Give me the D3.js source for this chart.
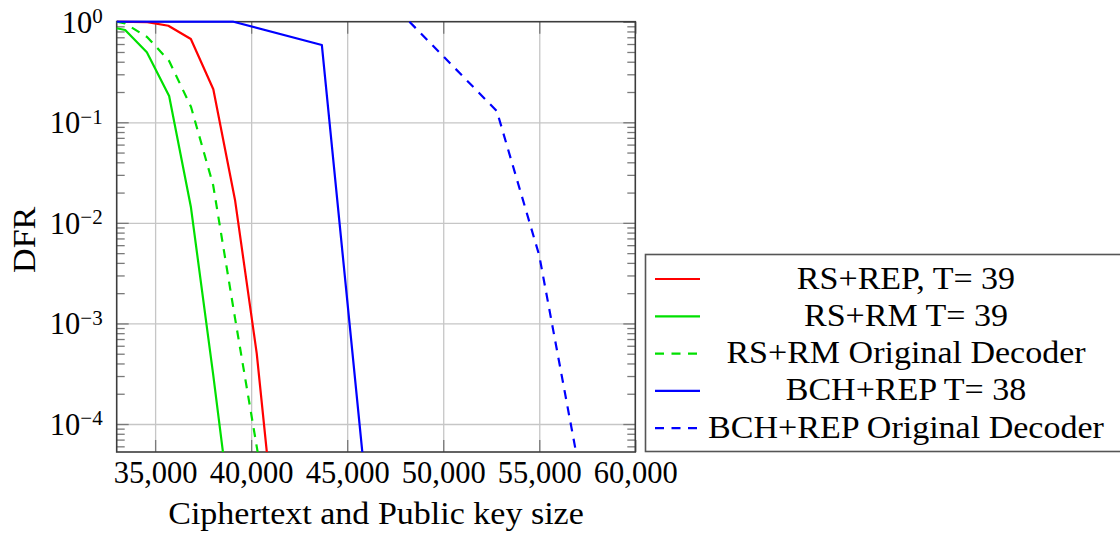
<!DOCTYPE html>
<html>
<head>
<meta charset="utf-8">
<script src="https://cdn.jsdelivr.net/npm/d3@7"></script>
<style>
  html, body { margin: 0; padding: 0; background: #fff; }
  svg { display: block; }
  text { font-family: "Liberation Serif", "Times New Roman", serif; fill: #000; }
</style>
</head>
<body>
<svg id="chart" width="1120" height="534"></svg>
<script>
// Decoding failure rate versus ciphertext + public key size (bits)
const xTicks = [35000, 40000, 45000, 50000, 55000, 60000];
const yDecades = [1, 1e-1, 1e-2, 1e-3, 1e-4];
const yExponents = [0, -1, -2, -3, -4];

const rsRepX = [33000, 34600, 35690, 36860, 38030, 39160, 40290, 40880];
const rsRepY = [1, 0.99, 0.912, 0.673, 0.213, 0.0169, 5.04e-4, 4e-5];

const rsRmX = [33000, 33440, 34570, 35730, 36860, 38020, 38610];
const rsRmY = [0.86, 0.827, 0.496, 0.1825, 0.01448, 3.14e-4, 4e-5];

const rsRmOrigX = [33000, 33440, 34580, 35730, 36870, 38020, 39160, 40390];
const rsRmOrigY = [1, 0.96, 0.705, 0.407, 0.142, 0.0238, 1.13e-3, 4.6e-5];

const bchRepX = [33000, 39080, 43680, 45850];
const bchRepY = [1, 1, 0.587, 4e-5];

const bchRepOrigX = [48240, 52790, 55000, 57030];
const bchRepOrigY = [1, 0.1294, 4.73e-3, 4e-5];

const seriesNames = ["RS+REP, T= 39", "RS+RM T= 39", "RS+RM Original Decoder", "BCH+REP T= 38", "BCH+REP Original Decoder"];
const seriesColors = ["#ff0000", "#00e000", "#00e000", "#0000ff", "#0000ff"];
const seriesDashed = [false, false, true, false, true];
const seriesX = [rsRepX, rsRmX, rsRmOrigX, bchRepX, bchRepOrigX];
const seriesY = [rsRepY, rsRmY, rsRmOrigY, bchRepY, bchRepOrigY];

const xDomain = [33000, 60000];
const yDomain = [5.27e-5, 1];

// layout
const plot = { left: 116.7, right: 635.3, top: 21.7, bottom: 452 };
const fontSize = 30.5;
const stretch = 1.115;
const dash = "9,7.5";

const svg = d3.select("#chart");

const x = d3.scaleLinear().domain(xDomain).range([plot.left, plot.right]);
const y = d3.scaleLog().domain(yDomain).range([plot.bottom, plot.top]);

const minorTicks = [];
for (let e = -5; e <= -1; e++) {
  for (let m = 2; m <= 9; m++) {
    const v = m * Math.pow(10, e);
    if (v >= yDomain[0] && v <= yDomain[1]) minorTicks.push(v);
  }
}

const h = plot.bottom - plot.top;
const w = plot.right - plot.left;

// grid
const grid = svg.append("g").attr("class", "grid");
grid.append("g")
  .attr("transform", `translate(0,${plot.bottom})`)
  .call(d3.axisBottom(x).tickValues(xTicks.filter(v => v < xDomain[1])).tickSize(-h).tickFormat(""))
  .call(g => g.select(".domain").remove());
grid.append("g")
  .attr("transform", `translate(${plot.left},0)`)
  .call(d3.axisLeft(y).tickValues(yDecades.filter(v => v < yDomain[1])).tickSize(-w).tickFormat(""))
  .call(g => g.select(".domain").remove());
grid.selectAll("line").attr("stroke", "#c6c6c6").attr("stroke-width", 1.3);

// tick marks (inward on all four sides)
const ticks = svg.append("g").attr("class", "ticks");
ticks.append("g").attr("transform", `translate(0,${plot.bottom})`)
  .call(d3.axisBottom(x).tickValues(xTicks).tickSize(-12).tickFormat(""));
ticks.append("g").attr("transform", `translate(0,${plot.top})`)
  .call(d3.axisTop(x).tickValues(xTicks).tickSize(-12).tickFormat(""));
ticks.append("g").attr("transform", `translate(${plot.left},0)`)
  .call(d3.axisLeft(y).tickValues(yDecades).tickSize(-12).tickFormat(""));
ticks.append("g").attr("transform", `translate(${plot.right},0)`)
  .call(d3.axisRight(y).tickValues(yDecades).tickSize(-12).tickFormat(""));
ticks.append("g").attr("transform", `translate(${plot.left},0)`)
  .call(d3.axisLeft(y).tickValues(minorTicks).tickSize(-8).tickFormat(""));
ticks.append("g").attr("transform", `translate(${plot.right},0)`)
  .call(d3.axisRight(y).tickValues(minorTicks).tickSize(-8).tickFormat(""));
ticks.selectAll(".domain").remove();
ticks.selectAll("line").attr("stroke", "#7a7a7a").attr("stroke-width", 1.3);

// frame
svg.append("rect")
  .attr("x", plot.left).attr("y", plot.top)
  .attr("width", w).attr("height", h)
  .attr("fill", "none").attr("stroke", "#3c3c3c").attr("stroke-width", 1.6);

// tick labels
const xLab = svg.append("g").attr("transform", `translate(0,${plot.bottom})`)
  .call(d3.axisBottom(x).tickValues(xTicks).tickSize(0).tickPadding(9.6).tickFormat(d3.format(",")));
xLab.select(".domain").remove();
xLab.selectAll("text").attr("font-size", fontSize).attr("font-family", "Liberation Serif").attr("fill", "#000");

const yLab = svg.append("g").attr("transform", `translate(${plot.left},0)`)
  .call(d3.axisLeft(y).tickValues(yDecades).tickSize(0).tickPadding(14).tickFormat(""));
yLab.select(".domain").remove();
yLab.selectAll(".tick text").each(function(d, i) {
  const t = d3.select(this)
    .attr("font-size", fontSize).attr("font-family", "Liberation Serif").attr("fill", "#000")
    .attr("dy", "0.34em");
  t.append("tspan").text("10");
  const exp = yExponents[i];
  t.append("tspan")
    .attr("font-size", 21).attr("dy", -9.5)
    .text(exp < 0 ? "\u2212" + Math.abs(exp) : String(exp));
});

// axis titles
const xTitle = svg.append("text")
  .attr("x", (plot.left + plot.right) / 2).attr("y", 524)
  .attr("text-anchor", "middle").attr("font-size", fontSize)
  .text("Ciphertext and Public key size");
const yTitle = svg.append("text")
  .attr("transform", `translate(35,${(plot.top + plot.bottom) / 2 + 3}) rotate(-90)`)
  .attr("text-anchor", "middle").attr("font-size", fontSize)
  .text("DFR");

// data lines
svg.append("clipPath").attr("id", "plot-clip")
  .append("rect")
  .attr("x", plot.left - 1.5).attr("y", plot.top - 1.5)
  .attr("width", w + 3).attr("height", h + 1.5);

const line = d3.line().x(d => x(d[0])).y(d => y(d[1]));
const lines = svg.append("g").attr("clip-path", "url(#plot-clip)");
seriesX.forEach((xs, i) => {
  const pts = xs.map((v, j) => [v, seriesY[i][j]]);
  lines.append("path")
    .datum(pts)
    .attr("d", line)
    .attr("fill", "none")
    .attr("stroke", seriesColors[i])
    .attr("stroke-width", 2.2)
    .attr("stroke-linejoin", "round")
    .attr("stroke-dasharray", seriesDashed[i] ? dash : null);
});

// legend
const legend = svg.append("g");
legend.append("rect")
  .attr("x", 645.5).attr("y", 254.5)
  .attr("width", 490).attr("height", 197)
  .attr("fill", "#fff").attr("stroke", "#555").attr("stroke-width", 1.6);
const rowY = i => 279 + i * 37.3;
seriesNames.forEach((name, i) => {
  legend.append("line")
    .attr("x1", 655).attr("x2", 700)
    .attr("y1", rowY(i)).attr("y2", rowY(i))
    .attr("stroke", seriesColors[i]).attr("stroke-width", 2.2)
    .attr("stroke-dasharray", seriesDashed[i] ? dash : null);
  legend.append("text")
    .attr("class", "stretch")
    .attr("x", 906).attr("y", rowY(i) + 9.5)
    .attr("text-anchor", "middle").attr("font-size", fontSize)
    .text(name);
});

// widen serif text slightly so it sets like Computer Modern
[xTitle, yTitle].concat(legend.selectAll("text.stretch").nodes().map(n => d3.select(n)))
  .forEach(sel => {
    const len = sel.node().getComputedTextLength();
    sel.attr("textLength", len * stretch).attr("lengthAdjust", "spacingAndGlyphs");
  });
</script>
</body>
</html>
